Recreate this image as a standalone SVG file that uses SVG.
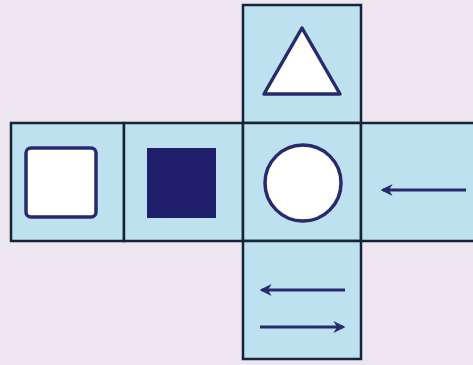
<svg xmlns="http://www.w3.org/2000/svg" width="473" height="365" viewBox="0 0 473 365">
<defs>
<style>
.cell{fill:#bde1ef;stroke:#16243a;stroke-width:2.5}
.shape{fill:#ffffff;stroke:#272a6c;stroke-width:3.5;stroke-linejoin:round}
.arr{stroke:#272a6c;stroke-width:3;fill:none}
</style>
<marker id="ah" viewBox="0 0 10 10" refX="8" refY="5" markerWidth="4" markerHeight="4" orient="auto" markerUnits="strokeWidth">
<path d="M10,5 L0,0 L3,5 L0,10 Z" fill="#272a6c"/>
</marker>
</defs>
<rect width="473" height="365" fill="#ede5f0"/>
<g id="cell-top">
<rect class="cell" x="243" y="5" width="118" height="118"/>
<polygon class="shape" points="302,28 264,94 340,94"/>
</g>
<g id="cell-left">
<rect class="cell" x="11" y="123" width="113" height="118"/>
<rect class="shape" x="26" y="148" width="70" height="69" rx="5"/>
</g>
<g id="cell-filled">
<rect class="cell" x="124" y="123" width="119" height="118"/>
<rect x="147" y="148" width="69" height="70" fill="#1f1f6b"/>
</g>
<g id="cell-center">
<rect class="cell" x="243" y="123" width="118" height="118"/>
<circle class="shape" cx="303" cy="183" r="38"/>
</g>
<g id="cell-right">
<rect class="cell" x="361" y="123" width="114" height="118"/>
</g>
<g id="cell-bottom">
<rect class="cell" x="243" y="241" width="118" height="118"/>
</g>
<g id="connectors">
<line class="arr" x1="466" y1="190" x2="383" y2="190" marker-end="url(#ah)"/>
<line class="arr" x1="345" y1="290" x2="262" y2="290" marker-end="url(#ah)"/>
<line class="arr" x1="260" y1="327" x2="343" y2="327" marker-end="url(#ah)"/>
</g>
</svg>
